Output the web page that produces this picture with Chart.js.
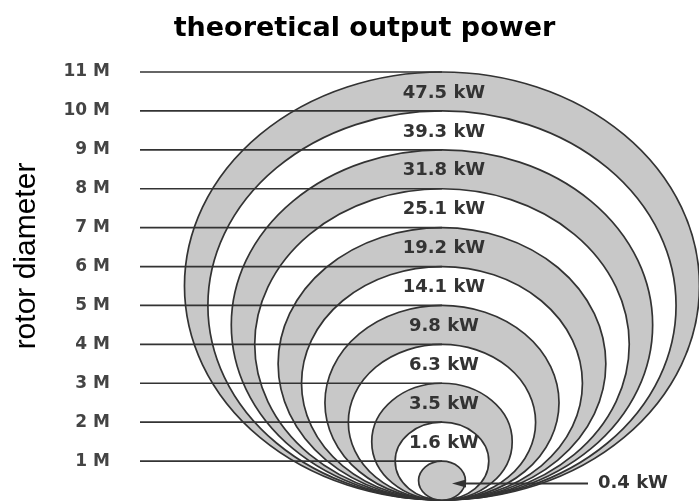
<!DOCTYPE html>
<html>
<head>
<meta charset="utf-8">
<script src="https://cdn.jsdelivr.net/npm/chart.js@4.4.1/dist/chart.umd.min.js"></script>
<style>
  html, body { margin: 0; padding: 0; background: #fff; overflow: hidden; }
  #wrap { width: 699px; height: 502px; position: relative; }
</style>
</head>
<body>
<div id="wrap"><canvas id="c"></canvas></div>
<script>
// ---- data ----
const diameters = [1, 2, 3, 4, 5, 6, 7, 8, 9, 10, 11];            // rotor diameter (m)
const tickLabels = ['1 M', '2 M', '3 M', '4 M', '5 M', '6 M', '7 M', '8 M', '9 M', '10 M', '11 M'];
const powerKW = [0.4, 1.6, 3.5, 6.3, 9.8, 14.1, 19.2, 25.1, 31.8, 39.3, 47.5]; // theoretical output (kW)
const powerLabels = powerKW.map(v => v.toFixed(1) + ' kW');
const chartTitle = 'theoretical output power';
const yTitle = 'rotor diameter';

// ---- scale ranges (metres) ----
const X_MIN = -6.45, X_MAX = 5.49, Y_MIN = 0, Y_MAX = 11;

const GRAY = '#c8c8c8', STROKE = '#333333';

const circlesPlugin = {
  id: 'circles',
  beforeDatasetsDraw(chart) {
    const ctx = chart.ctx, xs = chart.scales.x, ys = chart.scales.y;
    const cx = xs.getPixelForValue(0);
    const bottom = ys.getPixelForValue(0);
    ctx.save();
    for (let i = diameters.length - 1; i >= 0; i--) {
      const d = diameters[i];
      const top = ys.getPixelForValue(d);
      const rx = xs.getPixelForValue(d / 2) - cx;
      const ry = (bottom - top) / 2;
      ctx.beginPath();
      ctx.ellipse(cx, top + ry, rx, ry, 0, 0, Math.PI * 2);
      ctx.fillStyle = (d % 2 === 1) ? GRAY : '#ffffff';
      ctx.fill();
      ctx.lineWidth = 1.7;
      ctx.strokeStyle = STROKE;
      ctx.stroke();
    }
    ctx.restore();
  },
  afterDatasetsDraw(chart) {
    const ctx = chart.ctx, xs = chart.scales.x, ys = chart.scales.y;
    const cx = xs.getPixelForValue(0);
    ctx.save();
    ctx.font = 'bold 18px "DejaVu Sans"';
    ctx.fillStyle = '#333333';
    ctx.textBaseline = 'middle';
    for (let i = 1; i < diameters.length; i++) {
      const y = ys.getPixelForValue(diameters[i] - 0.5) + 1.5;
      ctx.textAlign = 'center';
      ctx.fillText(powerLabels[i], cx + 2, y);
    }
    // smallest one: label outside with arrow
    const ya = ys.getPixelForValue(diameters[0] / 2) + 3;
    const tipX = cx + 10;
    const endX = 588;
    ctx.strokeStyle = STROKE;
    ctx.lineWidth = 2;
    ctx.beginPath();
    ctx.moveTo(tipX + 8, ya);
    ctx.lineTo(endX, ya);
    ctx.stroke();
    ctx.beginPath();
    ctx.moveTo(tipX, ya);
    ctx.lineTo(tipX + 14, ya - 4);
    ctx.lineTo(tipX + 14, ya + 4);
    ctx.closePath();
    ctx.fillStyle = STROKE;
    ctx.fill();
    ctx.textAlign = 'left';
    ctx.fillStyle = '#333333';
    ctx.fillText(powerLabels[0], 598, ya);
    ctx.restore();
  },
  afterDraw(chart) {
    const ctx = chart.ctx, area = chart.chartArea;
    ctx.save();
    ctx.translate(27, 256);
    ctx.rotate(-Math.PI / 2);
    ctx.font = '30px "Liberation Sans"';
    ctx.fillStyle = '#000';
    ctx.textAlign = 'center';
    ctx.textBaseline = 'middle';
    ctx.fillText(yTitle, 0, 0);
    ctx.restore();
  }
};

const datasets = diameters.map(d => ({
  type: 'line',
  data: [{ x: X_MIN, y: d }, { x: 0, y: d }],
  borderColor: STROKE,
  borderWidth: 1.7,
  pointRadius: 0,
  clip: false
}));

new Chart(document.getElementById('c'), {
  type: 'scatter',
  data: { datasets },
  options: {
    responsive: true,
    maintainAspectRatio: false,
    animation: false,
    layout: { padding: { left: 30, right: 0, top: 0, bottom: 2 } },
    plugins: {
      legend: { display: false },
      tooltip: { enabled: false },
      title: {
        display: true,
        text: chartTitle,
        color: '#000',
        font: { family: '"DejaVu Sans"', size: 27, weight: 'bold', lineHeight: 1.2 },
        padding: { top: 13, bottom: 26.6 }
      }
    },
    scales: {
      x: { type: 'linear', min: X_MIN, max: X_MAX, display: false },
      y: {
        type: 'linear', min: Y_MIN, max: Y_MAX,
        grid: { display: false, drawTicks: false },
        border: { display: false },
        afterBuildTicks: s => { s.ticks = diameters.map(v => ({ value: v })); },
        afterFit: s => { s.width = 110; s.paddingTop = 0; s.paddingBottom = 0; },
        ticks: {
          padding: 30,
          color: '#444',
          font: { family: '"DejaVu Sans"', size: 17, weight: 'bold' },
          callback: v => tickLabels[diameters.indexOf(v)]
        }
      }
    }
  },
  plugins: [circlesPlugin]
});
</script>
</body>
</html>
